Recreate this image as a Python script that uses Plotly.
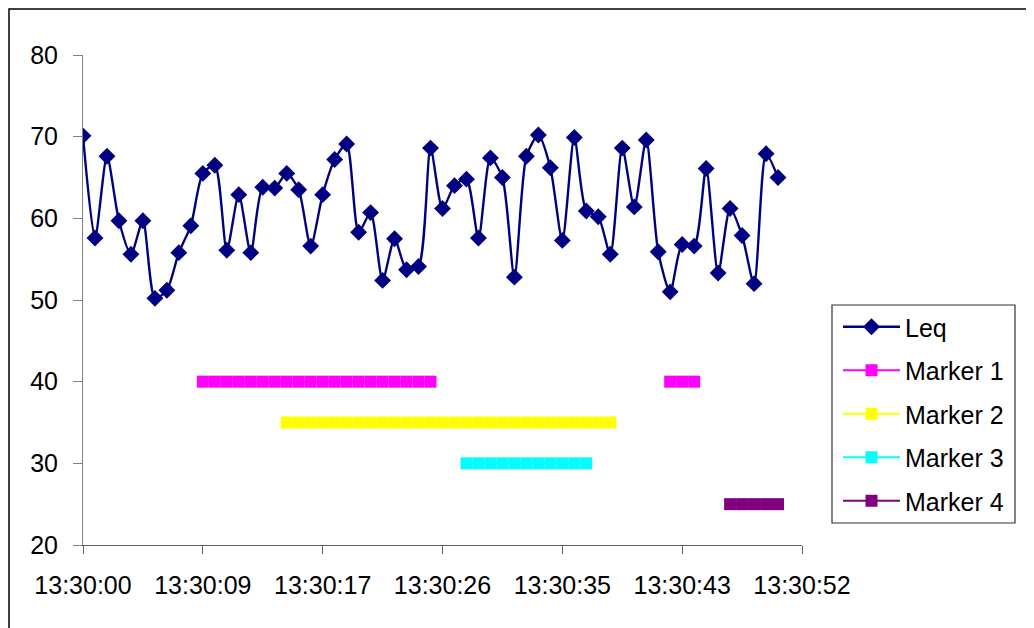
import datetime as dt
import plotly.graph_objects as go

# ---- data ----
start_time = "2000-01-01 13:30:00"
sample_step_s = 0.864  # one sample every 0.00001 day

leq = [70.1, 57.6, 67.6, 59.7, 55.6, 59.7, 50.2, 51.2, 55.8, 59.1,
       65.5, 66.5, 56.1, 62.9, 55.8, 63.8, 63.7, 65.5, 63.5, 56.6,
       62.9, 67.2, 69.1, 58.3, 60.7, 52.4, 57.5, 53.7, 54.1, 68.6,
       61.2, 64.0, 64.8, 57.6, 67.4, 65.0, 52.8, 67.6, 70.2, 66.2,
       57.3, 69.9, 60.9, 60.2, 55.6, 68.6, 61.4, 69.6, 55.9, 51.0,
       56.8, 56.6, 66.1, 53.3, 61.2, 57.9, 52.0, 67.9, 65.0]

# marker series: (level, list of (first sample index, last sample index))
marker1_level = 40
marker1_spans = [(10, 29), (49, 51)]
marker2_level = 35
marker2_spans = [(17, 44)]
marker3_level = 30
marker3_spans = [(32, 42)]
marker4_level = 25
marker4_spans = [(54, 58)]

tick_seconds = [0, 8.64, 17.28, 25.92, 34.56, 43.2, 51.84]
tick_labels = ["13:30:00", "13:30:09", "13:30:17", "13:30:26",
               "13:30:35", "13:30:43", "13:30:52"]

# ---- build ----
t0 = dt.datetime.strptime(start_time, "%Y-%m-%d %H:%M:%S")
times = [t0 + dt.timedelta(seconds=i * sample_step_s) for i in range(len(leq))]
tickvals = [t0 + dt.timedelta(seconds=s) for s in tick_seconds]


def marker_series(level, spans):
    ys = [None] * len(leq)
    for a, b in spans:
        for i in range(a, b + 1):
            ys[i] = level
    return ys


FONT = "Liberation Sans, Arial, sans-serif"
fig = go.Figure()

fig.add_trace(go.Scatter(
    x=times, y=leq, name="Leq", mode="lines+markers", legendgroup="g0",
    line=dict(color="#000080", width=2.4, shape="spline", smoothing=0.7),
    marker=dict(symbol="diamond", size=13, color="#000080"),
))

for nm, lvl, spans, col, grp in [
    ("Marker 1", marker1_level, marker1_spans, "#FF00FF", "g1"),
    ("Marker 2", marker2_level, marker2_spans, "#FFFF00", "g2"),
    ("Marker 3", marker3_level, marker3_spans, "#00FFFF", "g3"),
    ("Marker 4", marker4_level, marker4_spans, "#800080", "g4"),
]:
    fig.add_trace(go.Scatter(
        x=times, y=marker_series(lvl, spans), name=nm, mode="lines+markers",
        legendgroup=grp, connectgaps=False,
        line=dict(color=col, width=2),
        marker=dict(symbol="square", size=12, color=col),
    ))

# page offset (body margin) and screen-pixel plot area
OFF = 8
W, H = 1034 - OFF, 628 - OFF
L, R, T, B = 83, 802, 55, 545
def px(x):
    return (x - L) / (R - L)
def py(y):
    return (B - y) / (B - T)

fig.update_layout(
    width=W, height=H,
    margin=dict(l=L - OFF, r=W - (R - OFF), t=T - OFF, b=H - (B - OFF), pad=0),
    paper_bgcolor="white", plot_bgcolor="white",
    font=dict(family=FONT, size=25, color="black"),
    showlegend=True,
    legend=dict(
        x=px(838), y=py(304), xanchor="left", yanchor="top",
        bgcolor="rgba(0,0,0,0)", borderwidth=0,
        font=dict(family=FONT, size=25, color="black"),
        tracegroupgap=8, itemwidth=57,
    ),
    xaxis=dict(
        type="date",
        range=[t0, t0 + dt.timedelta(seconds=tick_seconds[-1])],
        tickmode="array", tickvals=tickvals, ticktext=tick_labels,
        showgrid=False, zeroline=False,
        showline=True, linecolor="#606060", linewidth=1,
        ticks="outside", ticklen=8, tickcolor="#606060",
        ticklabelstandoff=10,
        tickfont=dict(family=FONT, size=25, color="black"),
    ),
    yaxis=dict(
        range=[20, 80], dtick=10, tick0=20,
        showgrid=False, zeroline=False,
        showline=True, linecolor="#808080", linewidth=1,
        ticks="outside", ticklen=9, tickcolor="#808080",
        ticklabelstandoff=10,
        tickfont=dict(family=FONT, size=25, color="black"),
    ),
    shapes=[
        dict(type="rect", xref="paper", yref="paper",
             x0=px(9), x1=px(1030), y0=py(660), y1=py(9),
             line=dict(color="black", width=1.5), layer="below"),
        dict(type="rect", xref="paper", yref="paper",
             x0=px(832), x1=px(1015), y0=py(523), y1=py(305),
             line=dict(color="#333333", width=1.2), layer="above"),
    ],
)

fig.write_html("out.html")
